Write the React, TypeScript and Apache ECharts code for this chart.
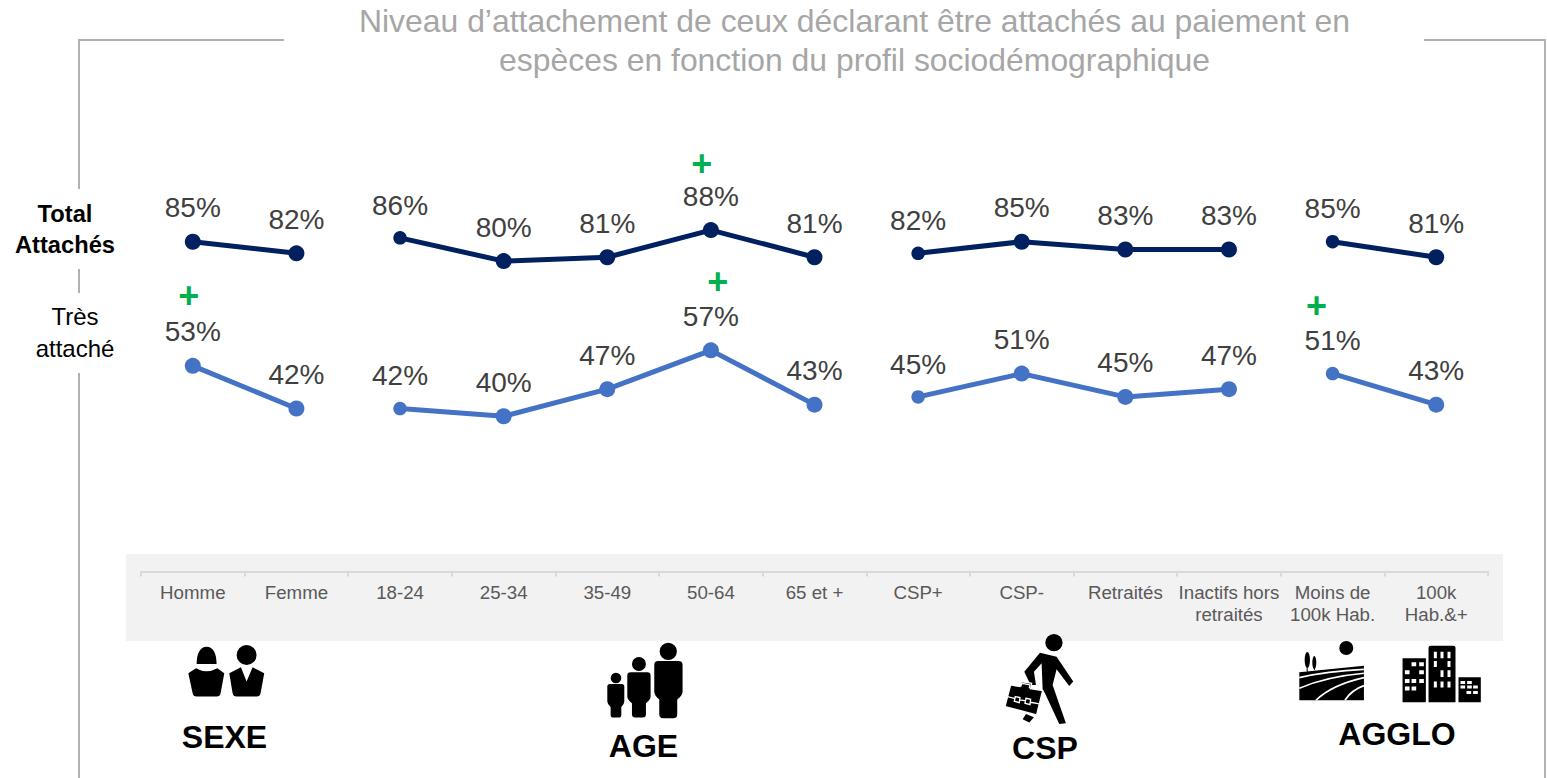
import React, { useEffect, useRef } from "react";
import * as echarts from "echarts";

const categories = ["Homme", "Femme", "18-24", "25-34", "35-49", "50-64", "65 et +", "CSP+", "CSP-", "Retraités", "Inactifs hors\nretraités", "Moins de\n100k Hab.", "100k\nHab.&+"];
const totalAttaches = [85, 82, 86, 80, 81, 88, 81, 82, 85, 83, 83, 85, 81];
const tresAttache = [53, 42, 42, 40, 47, 57, 43, 45, 51, 45, 47, 51, 43];
const groupSizes = [2, 5, 4, 2];
const plusCategories = ["Homme", "50-64", "50-64", "Moins de\n100k Hab."];
const plusValues = [53, 88, 57, 51];
const titleText = "Niveau d’attachement de ceux déclarant être attachés au paiement en\nespèces en fonction du profil sociodémographique";

const FONT = '"Liberation Sans", Arial, sans-serif';
const PLUS_OFFSETS = [[-4, -70], [-9, -67], [7, -69], [-16, -68]];

const reg = (name: string, d: string) => echarts.graphic.registerShape(name, echarts.graphic.extendPath(d, {}) as any);
const circle = (cx: number, cy: number, r: number) => `M${cx - r} ${cy}A${r} ${r} 0 1 1 ${cx + r} ${cy}A${r} ${r} 0 1 1 ${cx - r} ${cy}Z`;
const ellipse = (cx: number, cy: number, rx: number, ry: number) => `M${cx - rx} ${cy}A${rx} ${ry} 0 1 1 ${cx + rx} ${cy}A${rx} ${ry} 0 1 1 ${cx - rx} ${cy}Z`;
const person = (bx0: number, bx1: number, by0: number, by1: number, lx0: number, lx1: number, ly: number, r: number) =>
  `M${bx0 + r} ${by0}L${bx1 - r} ${by0}Q${bx1} ${by0} ${bx1} ${by0 + r}L${bx1} ${by1 - r}Q${bx1} ${by1} ${lx1} ${by1 + r}L${lx1} ${ly - r}Q${lx1} ${ly} ${lx1 - r} ${ly}L${lx0 + r} ${ly}Q${lx0} ${ly} ${lx0} ${ly - r}L${lx0} ${by1 + r}Q${bx0} ${by1} ${bx0} ${by1 - r}L${bx0} ${by0 + r}Q${bx0} ${by0} ${bx0 + r} ${by0}Z`;
const rr = (x: number, y: number, w: number, h: number) => `M${x} ${y}h${w}v${h}h${-w}Z`;

reg("iconSexe",
  "M80 87C80 55 90 35 110 35C130 35 140 55 140 87Z" +
  "M55 115L78 100Q110 118 142 100L163 115L152 175Q150 185 140 185L80 185Q70 185 68 175Z" +
  circle(230, 60, 30) +
  "M178 115L213 97L230 140L248 97L283 115L272 175Q270 185 260 185L200 185Q190 185 188 175Z");
reg("iconAge",
  circle(235, 49, 26) + person(193, 278, 78, 182, 208, 262, 250, 12) +
  circle(147, 87, 21) + person(112, 182, 112, 195, 126, 168, 248, 10) +
  circle(78, 129, 16) + person(52, 103, 147, 208, 62, 94, 248, 8));
reg("iconCsp",
  circle(192, 38, 26) +
  "M150 68L200 80L250 155L238 168L200 118L188 165L228 280L208 282L165 190L158 178L155 100L132 125L138 165L122 165L103 125Z" +
  "M108 252L132 262L118 278L98 268Z");
reg("iconCase",
  "M62 165L90 170L94 155L125 160L122 176L158 182L140 255L45 230Z");
reg("iconCaseLines",
  "M92 170L96 160L120 165L118 175M52 200L76 206M90 210L108 213M122 217L148 222M76 200L90 203L88 218L73 214ZM108 205L122 208L120 224L105 220Z");
reg("iconField",
  circle(169, 39, 21) + ellipse(52, 75, 8, 24) + ellipse(73, 83, 6, 20) + rr(50, 90, 3, 20) + rr(72, 95, 3, 10) +
  "M28 112L222 92L222 196L28 196Z");
reg("iconFieldLines",
  "M28 128Q110 108 222 103M28 160Q110 125 222 115M78 196Q125 150 222 128M165 196Q185 165 222 152");
reg("iconCity",
  rr(338, 70, 70, 132) + "M422 32L491 32Q497 32 497 38L497 202L416 202L416 38Q416 32 422 32Z" + rr(506, 127, 67, 75));
reg("iconCityWin",
  rr(365, 82, 14, 12) + rr(388, 82, 14, 12) + rr(345, 106, 14, 12) + rr(388, 106, 14, 12) +
  rr(345, 132, 14, 12) + rr(365, 132, 14, 12) + rr(388, 132, 14, 12) + rr(345, 155, 14, 12) + rr(365, 155, 14, 12) +
  rr(432, 50, 9, 20) + rr(452, 50, 9, 20) + rr(473, 50, 9, 20) + rr(432, 78, 9, 18) + rr(473, 78, 9, 18) +
  rr(452, 106, 9, 20) + rr(473, 106, 9, 20) + rr(432, 140, 9, 18) + rr(452, 140, 9, 18) + rr(473, 140, 9, 18) +
  rr(512, 138, 14, 9) + rr(532, 138, 14, 9) + rr(512, 152, 14, 9) + rr(532, 152, 14, 9) + rr(550, 152, 14, 9) +
  rr(530, 168, 14, 9) + rr(550, 168, 14, 9));

function rowSeries(name: string, values: number[], color: string) {
  let start = 0;
  return groupSizes.map((size, g) => {
    const s = start;
    start += size;
    return {
      name,
      type: "line",
      data: values.map((v, i) => {
        if (i < s || i >= s + size) return null;
        const firstSmall = i === s && g > 0;
        return { value: v, symbolSize: firstSmall ? 13.5 : 16 };
      }),
      connectNulls: false,
      showSymbol: true,
      symbol: "circle",
      lineStyle: { color, width: 5, cap: "round" },
      itemStyle: { color },
      label: {
        show: true,
        position: "top",
        distance: 0,
        offset: [0, -12],
        formatter: "{c}%",
        fontFamily: FONT,
        fontSize: 28,
        color: "#404040",
      },
      z: 3,
    };
  });
}

export default function App() {
  const ref = useRef<HTMLDivElement>(null);
  useEffect(() => {
    const chart = echarts.init(ref.current!, undefined, { renderer: "svg" });
    const icon = (type: string, x: number, y: number, fill: string, stroke?: string, lineWidth?: number) => ({
      type, x, y, scaleX: 1 / 3, scaleY: 1 / 3, z: 5, silent: true,
      style: stroke ? { fill: fill || "none", stroke, lineWidth } : { fill },
    });
    const label = (text: string, x: number, y: number, size: number, bold: boolean, lh: number) => ({
      type: "text", x, y, z: 6, silent: true,
      style: { text, fontFamily: FONT, fontSize: size, fontWeight: bold ? "bold" : "normal", fill: "#000000", align: "center", verticalAlign: "middle", lineHeight: lh },
    });
    const frame = (points: number[][]) => ({
      type: "polyline", z: 1, silent: true,
      shape: { points },
      style: { fill: "none", stroke: "#b2b2b2", lineWidth: 2 },
    });
    chart.setOption({
      animation: false,
      backgroundColor: "#ffffff",
      title: {
        text: titleText,
        left: 849.5,
        top: -4,
        textAlign: "center",
        textStyle: { fontFamily: FONT, fontSize: 31.9, fontWeight: "normal", color: "#a6a6a6", lineHeight: 39 },
      },
      grid: { left: 141, right: 59, top: 183.5, bottom: 206.5 },
      xAxis: {
        type: "category",
        data: categories,
        boundaryGap: true,
        axisLine: { lineStyle: { color: "#d9d9d9", width: 2 } },
        axisTick: { show: true, alignWithLabel: false, length: 5, lineStyle: { color: "#d9d9d9", width: 2 } },
        axisLabel: { interval: 0, margin: 10, fontFamily: FONT, fontSize: 18.7, color: "#595959", lineHeight: 22, align: "center", verticalAlign: "top", hideOverlap: false },
        z: 2,
      },
      yAxis: { type: "value", min: 0, max: 100, show: false, splitLine: { show: false } },
      series: [
        ...rowSeries("Total Attachés", totalAttaches, "#002060"),
        ...rowSeries("Très attaché", tresAttache, "#4472C4"),
        {
          type: "scatter",
          data: plusValues.map((v, i) => ({
            value: [categories.indexOf(plusCategories[i]), v],
            label: { offset: PLUS_OFFSETS[i] },
          })),
          symbol: "circle",
          symbolSize: 1,
          itemStyle: { color: "transparent" },
          label: {
            show: true,
            position: "inside",
            formatter: "+",
            fontFamily: FONT,
            fontSize: 36,
            lineHeight: 20,
            fontWeight: "bold",
            color: "#00B050",
            opacity: 1,
          },
          z: 4,
        },
      ],
      graphic: {
        elements: [
          { type: "rect", z: -10, silent: true, shape: { x: 126, y: 554, width: 1377, height: 87 }, style: { fill: "#f2f2f2" } },
          frame([[284, 40], [79, 40], [79, 189]]),
          frame([[79, 269], [79, 293]]),
          frame([[79, 373], [79, 778]]),
          frame([[1424, 40], [1545, 40], [1545, 778]]),
          label("Total\nAttachés", 65, 229, 23.7, true, 31),
          label("Très\nattaché", 75, 332, 24, false, 32),
          label("SEXE", 224.5, 737, 32, true, 36),
          label("AGE", 643.5, 746, 32, true, 36),
          label("CSP", 1045, 748, 32, true, 36),
          label("AGGLO", 1397, 734, 32, true, 36),
          icon("iconSexe", 170, 635, "#000000"),
          icon("iconAge", 590, 635, "#000000"),
          icon("iconCsp", 990, 630, "#000000"),
          icon("iconCase", 990, 630, "#000000", "#ffffff", 4),
          icon("iconCaseLines", 990, 630, "", "#ffffff", 4),
          icon("iconField", 1290, 635, "#000000"),
          icon("iconFieldLines", 1290, 635, "", "#ffffff", 5),
          icon("iconCity", 1290, 635, "#000000"),
          icon("iconCityWin", 1290, 635, "#ffffff"),
        ],
      },
    });
    return () => chart.dispose();
  }, []);
  return <div ref={ref} style={{ position: "fixed", left: 0, top: 0, width: 1547, height: 778 }} />;
}
